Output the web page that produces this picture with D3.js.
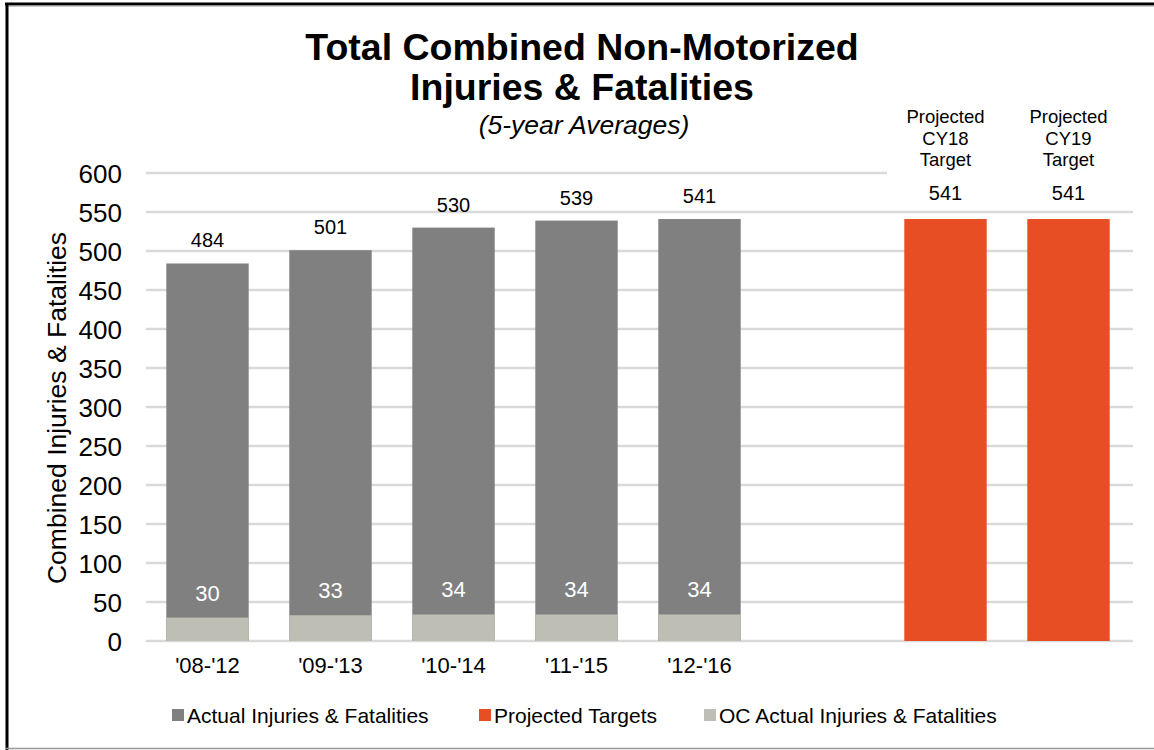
<!DOCTYPE html>
<html lang="en">
<head>
    <meta charset="UTF-8">
    <title>Total Combined Non-Motorized Injuries &amp; Fatalities</title>
    <script src="https://d3js.org/d3.v7.min.js"></script>
    <style>
        body { margin: 0; background: #fff; font-family: 'Liberation Sans', Arial, sans-serif; }
        svg text { fill: #000; }
    </style>
</head>
<body>
<div id="chart"></div>
<script>
    // --- Data ---
    const categories = ["'08-'12", "'09-'13", "'10-'14", "'11-'15", "'12-'16", "", "CY18", "CY19"];
    const actualValues = [484, 501, 530, 539, 541];
    const ocValues = [30, 33, 34, 34, 34];
    const projectedValues = [541, 541];
    const projectedCats = ["CY18", "CY19"];
    const yTicks = [0, 50, 100, 150, 200, 250, 300, 350, 400, 450, 500, 550, 600];
    const legendItems = ["Actual Injuries & Fatalities", "Projected Targets", "OC Actual Injuries & Fatalities"];

    const colors = { actual: "#808080", projected: "#E84E24", oc: "#BEBEB4", grid: "#D9D9D9" };

    const width = 1154, height = 750;
    const margin = { left: 146, right: 24, top: 173, bottom: 109 };
    const gridRight = 1133;

    const svg = d3.select("#chart").append("svg")
        .attr("width", width)
        .attr("height", height);

    // frame
    svg.append("line").attr("x1", 5).attr("x2", width).attr("y1", 4).attr("y2", 4)
        .attr("stroke", "#000").attr("stroke-width", 3);
    svg.append("line").attr("x1", 5).attr("x2", width).attr("y1", 6).attr("y2", 6)
        .attr("stroke", "#999").attr("stroke-width", 1);
    svg.append("line").attr("x1", 7).attr("x2", 7).attr("y1", 3).attr("y2", height)
        .attr("stroke", "#000").attr("stroke-width", 3);
    svg.append("line").attr("x1", 5).attr("x2", width).attr("y1", 748.5).attr("y2", 748.5)
        .attr("stroke", "#999").attr("stroke-width", 1.5);

    const x = d3.scaleBand()
        .domain(categories.map((c, i) => i))
        .range([margin.left, width - margin.right])
        .paddingInner(0.33)
        .paddingOuter(0.165);

    const y = d3.scaleLinear()
        .domain([0, 600])
        .range([height - margin.bottom, margin.top]);

    // gridlines (top one stops before the projected labels)
    svg.append("g")
        .selectAll("line")
        .data(yTicks)
        .join("line")
        .attr("x1", margin.left)
        .attr("x2", d => d === 600 ? 887 : gridRight)
        .attr("y1", d => y(d))
        .attr("y2", d => y(d))
        .attr("stroke", colors.grid)
        .attr("stroke-width", 2.5);

    // y axis labels
    const yAxis = svg.append("g")
        .attr("transform", `translate(${margin.left},0)`)
        .call(d3.axisLeft(y).tickValues(yTicks).tickSize(0).tickPadding(24));
    yAxis.select(".domain").remove();
    yAxis.selectAll("text")
        .style("font-size", "26px")
        .style("font-family", "'Liberation Sans', Arial, sans-serif")
        .attr("dy", "0.35em")
        .attr("fill", "#000");

    // actual bars
    svg.append("g")
        .selectAll("rect")
        .data(actualValues)
        .join("rect")
        .attr("x", (d, i) => x(i))
        .attr("width", x.bandwidth())
        .attr("y", d => y(d))
        .attr("height", d => y(0) - y(d))
        .attr("fill", colors.actual);

    // OC bars
    svg.append("g")
        .selectAll("rect")
        .data(ocValues)
        .join("rect")
        .attr("x", (d, i) => x(i))
        .attr("width", x.bandwidth())
        .attr("y", d => y(d))
        .attr("height", d => y(0) - y(d))
        .attr("fill", colors.oc);

    // projected bars
    svg.append("g")
        .selectAll("rect")
        .data(projectedValues)
        .join("rect")
        .attr("x", (d, i) => x(categories.indexOf(projectedCats[i])))
        .attr("width", x.bandwidth())
        .attr("y", d => y(d))
        .attr("height", d => y(0) - y(d))
        .attr("fill", colors.projected);

    // value labels
    svg.append("g")
        .selectAll("text")
        .data(actualValues)
        .join("text")
        .attr("x", (d, i) => x(i) + x.bandwidth() / 2)
        .attr("y", d => y(d) - 16)
        .attr("text-anchor", "middle")
        .style("font-size", "20px")
        .text(d => d);

    svg.append("g")
        .selectAll("text")
        .data(ocValues)
        .join("text")
        .attr("x", (d, i) => x(i) + x.bandwidth() / 2)
        .attr("y", d => y(d) - 17)
        .attr("text-anchor", "middle")
        .style("font-size", "22px")
        .style("fill", "#fff")
        .text(d => d);

    const proj = svg.append("g")
        .selectAll("g")
        .data(projectedValues)
        .join("g")
        .attr("transform", (d, i) => `translate(${x(categories.indexOf(projectedCats[i])) + x.bandwidth() / 2},0)`);
    proj.append("text")
        .attr("y", d => y(d) - 19)
        .attr("text-anchor", "middle")
        .style("font-size", "20px")
        .text(d => d);
    proj.each(function (d, i) {
        const lines = ["Projected", projectedCats[i], "Target"];
        d3.select(this).selectAll("text.hdr")
            .data(lines)
            .join("text")
            .attr("class", "hdr")
            .attr("y", (l, j) => 123 + j * 21.5)
            .attr("text-anchor", "middle")
            .style("font-size", "18.5px")
            .text(l => l);
    });

    // x axis labels
    svg.append("g")
        .selectAll("text")
        .data(categories.slice(0, 5))
        .join("text")
        .attr("x", (d, i) => x(i) + x.bandwidth() / 2)
        .attr("y", 673)
        .attr("text-anchor", "middle")
        .style("font-size", "22px")
        .text(d => d);

    // y axis title
    svg.append("text")
        .attr("transform", "translate(66,408) rotate(-90)")
        .attr("text-anchor", "middle")
        .style("font-size", "26.5px")
        .text("Combined Injuries & Fatalities");

    // titles
    svg.append("text")
        .attr("x", 582).attr("y", 60)
        .attr("text-anchor", "middle")
        .style("font-size", "37.5px").style("font-weight", "bold")
        .text("Total Combined Non-Motorized");
    svg.append("text")
        .attr("x", 582).attr("y", 100)
        .attr("text-anchor", "middle")
        .style("font-size", "37.5px").style("font-weight", "bold")
        .text("Injuries & Fatalities");
    svg.append("text")
        .attr("x", 584).attr("y", 134)
        .attr("text-anchor", "middle")
        .style("font-size", "26.5px").style("font-style", "italic")
        .text("(5-year Averages)");

    // legend
    const legendX = [172, 479, 704];
    const legendColors = [colors.actual, colors.projected, colors.oc];
    const legend = svg.append("g")
        .selectAll("g")
        .data(legendItems)
        .join("g")
        .attr("transform", (d, i) => `translate(${legendX[i]},715)`);
    legend.append("rect")
        .attr("x", 0).attr("y", -6)
        .attr("width", 12).attr("height", 12)
        .attr("fill", (d, i) => legendColors[i]);
    legend.append("text")
        .attr("x", 15).attr("y", 7.5)
        .style("font-size", "21px")
        .text(d => d);
</script>
</body>
</html>
